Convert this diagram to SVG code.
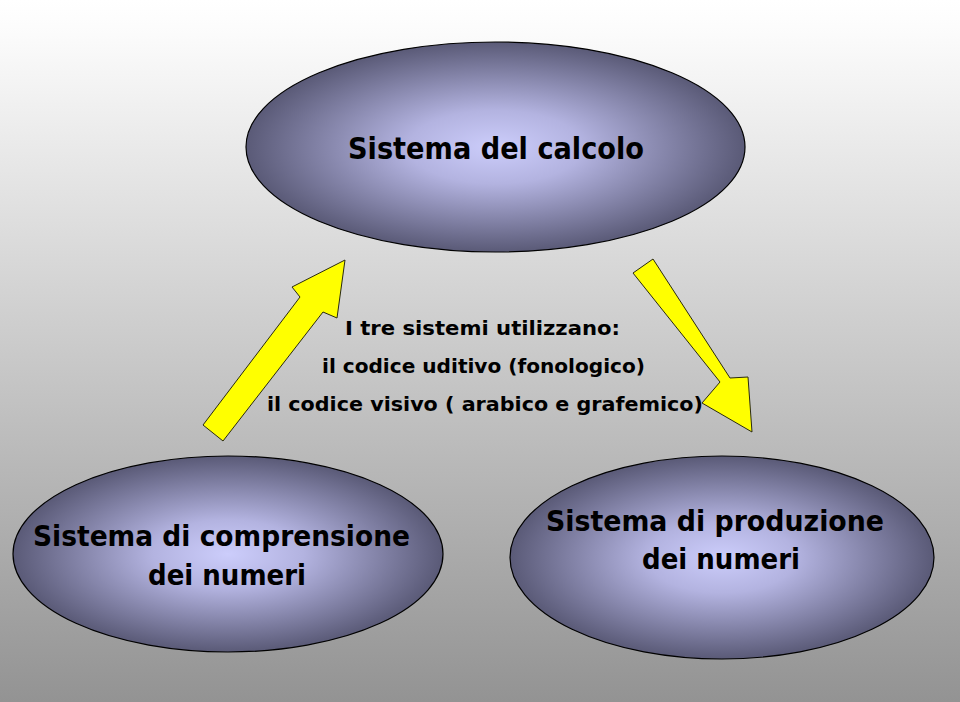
<svg xmlns="http://www.w3.org/2000/svg" width="960" height="702" viewBox="0 0 960 702">
<defs>
<linearGradient id="bg" x1="0" y1="0" x2="0" y2="1">
<stop offset="0" stop-color="#ffffff"/>
<stop offset="0.05" stop-color="#fbfbfb"/>
<stop offset="1" stop-color="#939393"/>
</linearGradient>
<radialGradient id="ell" cx="0.5" cy="0.5" r="0.5">
<stop offset="0" stop-color="#cccdfb"/>
<stop offset="0.35" stop-color="#b3b3e0"/>
<stop offset="1" stop-color="#5a5a77"/>
</radialGradient>
<style>
.node ellipse{fill:url(#ell);stroke:#000;stroke-width:1.2}
.t{font-family:"DejaVu Sans","Noto Sans",sans-serif;font-weight:bold;fill:#000;text-anchor:middle}
.arrow{fill:#ffff00;stroke:#2a2a10;stroke-width:1;stroke-linejoin:miter}
</style>
</defs>
<rect width="960" height="702" fill="url(#bg)"/>
<g id="connectors">
<polygon class="arrow" points="203,425 300,297 292,287 345,260 337,318 323,312 223,441"/>
<polygon class="arrow" points="633,273 653,259 730,378 748,377 752,432 702,403 720,382"/>
</g>
<g id="node-calcolo" class="node">
<ellipse cx="495.5" cy="147" rx="249.5" ry="105"/>
<text class="t" x="496" y="159" font-size="30" textLength="296" lengthAdjust="spacingAndGlyphs">Sistema del calcolo</text>
</g>
<g id="node-comprensione" class="node">
<ellipse cx="228" cy="554" rx="215" ry="98"/>
<text class="t" x="221.5" y="546" font-size="28" textLength="377" lengthAdjust="spacingAndGlyphs">Sistema di comprensione</text>
<text class="t" x="227" y="585" font-size="28" textLength="158" lengthAdjust="spacingAndGlyphs">dei numeri</text>
</g>
<g id="node-produzione" class="node">
<ellipse cx="722" cy="557.5" rx="212" ry="101.5"/>
<text class="t" x="715" y="531" font-size="28" textLength="338" lengthAdjust="spacingAndGlyphs">Sistema di produzione</text>
<text class="t" x="721" y="569" font-size="28" textLength="158" lengthAdjust="spacingAndGlyphs">dei numeri</text>
</g>
<g id="note">
<text class="t" x="482.5" y="335" font-size="20" textLength="275" lengthAdjust="spacingAndGlyphs">I tre sistemi utilizzano:</text>
<text class="t" x="483.5" y="373" font-size="20" textLength="323" lengthAdjust="spacingAndGlyphs">il codice uditivo (fonologico)</text>
<text class="t" x="485" y="411" font-size="20" textLength="436" lengthAdjust="spacingAndGlyphs">il codice visivo ( arabico e grafemico)</text>
</g>
</svg>
